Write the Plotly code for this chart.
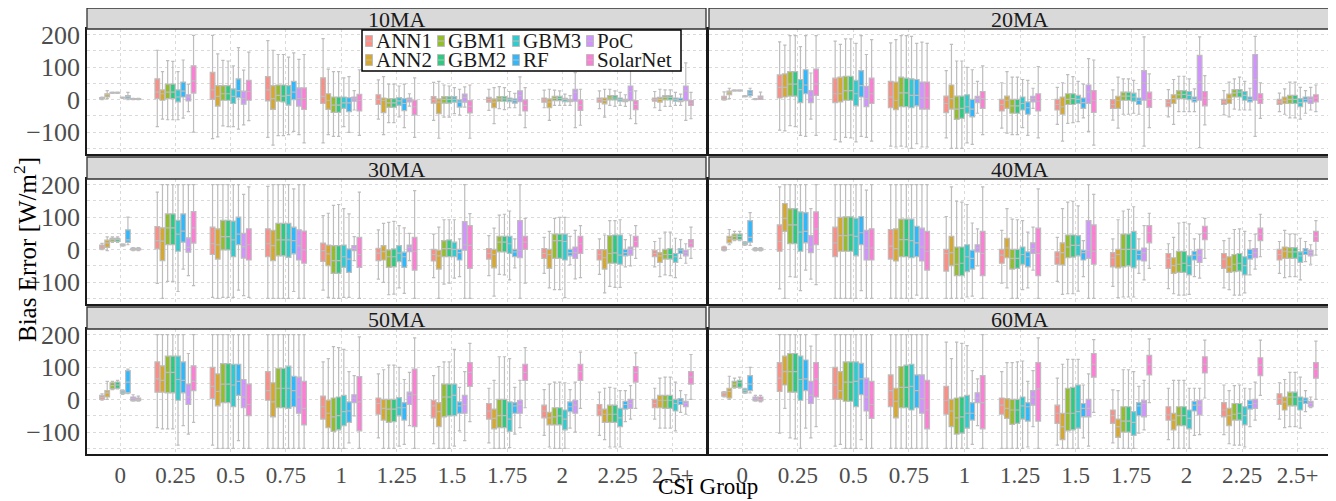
import plotly.graph_objects as go

CATS = ["0", "0.25", "0.5", "0.75", "1", "1.25", "1.5", "1.75", "2", "2.25", "2.5+"]
MODELS = ["ANN1", "ANN2", "GBM1", "GBM2", "GBM3", "RF", "PoC", "SolarNet"]
COLORS = ["#F8766D", "#CD9600", "#7CAE00", "#00BE67", "#00BFC4", "#00A9FF", "#C77CFF", "#FF61CC"]
PANELS = ["10MA", "20MA", "30MA", "40MA", "50MA", "60MA"]

# per CSI group: 8 models, each (lower whisker, q1, median, q3, upper whisker)
MA10 = [
    [(0,2,4,6,8),(3,8,15,18,28),(19,20,21,22,23),(19,20,21,22,23),(4,5,6,7,8),(0,4,9,12,22),(0,1,2,3,4),(0,1,2,3,4)],
    [(-83,3,23,64,152),(-60,-2,18,30,86),(-62,3,23,48,120),(-62,3,23,48,118),(-62,-7,8,30,86),(-57,8,26,54,122),(-37,-4,8,15,48),(-100,20,58,104,198)],
    [(-120,1,30,84,198),(-115,-20,10,43,141),(-81,-2,18,43,121),(-83,-2,18,43,119),(-83,-12,10,33,104),(-91,6,28,64,160),(-78,-14,3,26,91),(-65,-2,25,59,146)],
    [(-116,-4,30,71,182),(-140,-30,3,43,152),(-111,-5,13,45,139),(-111,-7,11,45,139),(-108,-17,13,43,131),(-98,0,23,56,144),(-108,-20,3,36,124),(-133,-30,3,36,139)],
    [(-133,-12,10,67,188),(-108,-30,-2,18,94),(-113,-39,-17,8,86),(-113,-39,-17,8,86),(-83,-27,-10,8,67),(-101,-37,-10,6,71),(-32,-5,2,8,28),(-110,-35,-2,16,92)],
    [(-60,-15,1,15,61),(-108,-40,-2,5,71),(-71,-24,-10,3,48),(-71,-24,-10,3,48),(-53,-18,-4,6,42),(-86,-34,-12,3,48),(-20,-7,0,5,18),(-116,-47,-22,-2,67)],
    [(-64,-11,0,9,53),(-119,-43,-8,2,56),(-54,-11,1,9,45),(-54,-11,1,9,42),(-43,-8,1,9,37),(-48,-23,-8,-1,32),(-23,-8,7,17,39),(-119,-41,-21,-3,45)],
    [(-33,-8,0,7,32),(-74,-25,-8,2,37),(-28,-5,2,9,40),(-31,-5,2,9,37),(-25,-6,0,5,25),(-25,-11,-3,2,19),(-48,-6,12,27,70),(-86,-35,-18,-1,37)],
    [(-25,-8,-1,5,29),(-64,-25,-8,2,32),(-18,-3,4,10,29),(-18,-3,4,10,27),(-18,-6,0,4,17),(-18,-6,-3,1,12),(-86,-5,22,32,83),(-79,-33,-18,-1,32)],
    [(-28,-8,0,5,27),(-54,-13,-3,5,32),(-18,-1,5,12,32),(-21,-1,5,12,27),(-18,-5,0,5,22),(-21,-6,-3,1,15),(-59,-3,25,42,103),(-74,-31,-15,-3,27)],
    [(-25,-5,0,5,25),(-33,-8,1,7,32),(-21,-1,7,12,30),(-21,-1,7,12,30),(-18,-5,0,5,22),(-18,-6,-3,4,17),(-64,-3,27,42,113),(-59,-18,-11,-3,22)],
]
MA20 = [
    [(-2,0,5,10,24),(3,15,21,26,35),(26,27,28,29,30),(26,27,28,29,30),(8,9,10,11,12),(8,13,20,28,35),(0,1,1,2,3),(1,1,6,11,23)],
    [(-94,5,38,76,178),(-96,8,38,79,168),(-80,11,48,86,197),(-83,11,48,86,197),(-110,-9,31,62,163),(-113,18,45,92,197),(-60,-9,8,28,82),(-110,13,48,94,197)],
    [(-123,-9,18,66,180),(-130,-7,18,69,170),(-116,-2,28,72,187),(-118,-2,28,72,187),(-130,-19,18,59,173),(-113,8,43,89,197),(-116,-22,3,41,139),(-128,-12,18,66,185)],
    [(-143,-25,8,56,175),(-146,-31,-2,54,185),(-143,-22,21,69,197),(-146,-22,21,66,197),(-150,-25,13,64,195),(-136,-19,13,62,173),(-146,-29,5,54,177),(-146,-29,5,54,173)],
    [(-118,-40,-12,11,89),(-150,-29,3,45,170),(-150,-61,-29,11,119),(-150,-58,-27,11,119),(-133,-42,-22,15,99),(-138,-53,-29,1,92),(-42,-9,3,10,56),(-108,-27,3,25,104)],
    [(-88,-35,-15,1,52),(-103,-27,-2,11,86),(-108,-42,-19,1,69),(-108,-42,-19,1,69),(-86,-32,-12,8,62),(-110,-45,-25,-7,59),(-27,-7,3,10,35),(-118,-35,-5,18,102)],
    [(-76,-32,-15,1,38),(-128,-45,-22,8,52),(-73,-15,1,18,77),(-71,-15,3,18,71),(-68,-12,1,13,56),(-56,-27,-9,5,48),(-98,-12,23,45,126),(-140,-39,-2,28,122)],
    [(-63,-27,-15,0,30),(-88,-27,-2,10,69),(-45,-2,11,23,64),(-45,-2,11,23,64),(-42,-5,8,20,59),(-45,-15,-2,5,31),(-143,-2,52,89,193),(-86,-24,1,23,79)],
    [(-53,-22,-9,0,31),(-76,-12,3,15,62),(-37,3,15,28,72),(-37,3,16,28,72),(-37,0,13,25,64),(-37,-7,1,8,33),(-148,-2,54,136,193),(-78,-19,5,25,74)],
    [(-47,-15,-7,1,28),(-53,-12,3,17,54),(-29,8,21,31,64),(-32,8,23,31,69),(-32,-2,13,25,56),(-32,-7,1,8,35),(-113,-2,62,139,195),(-58,-12,3,18,52)],
    [(-37,-15,-7,1,20),(-45,-12,-2,8,33),(-56,-12,1,13,54),(-56,-12,1,13,54),(-60,-22,-9,3,38),(-42,-7,1,8,28),(-32,-12,0,8,38),(-37,-7,5,15,45)],
]
MA30 = [
    [(0,2,8,14,19),(-3,7,21,29,39),(22,25,31,35,39),(22,25,31,35,39),(11,12,15,17,18),(15,22,30,61,100),(-3,-1,1,4,6),(-3,-1,1,4,6)],
    [(-104,2,28,71,177),(-150,-34,26,67,200),(-98,15,67,110,200),(-98,15,67,110,200),(-129,-5,48,90,200),(-60,23,57,110,200),(-80,-8,7,36,200),(-111,20,67,117,200)],
    [(-147,-15,18,69,200),(-150,-29,15,64,200),(-147,-1,40,90,200),(-147,-1,40,90,200),(-147,-22,30,88,200),(-125,15,48,100,200),(-142,-26,9,50,170),(-147,-32,15,64,193)],
    [(-150,-22,18,64,195),(-150,-34,12,59,200),(-150,-19,30,81,200),(-150,-19,30,81,200),(-150,-24,30,81,200),(-129,-13,28,69,187),(-150,-32,12,61,200),(-150,-42,-1,57,200)],
    [(-125,-36,-3,20,105),(-147,-49,-13,14,112),(-150,-73,-34,12,136),(-150,-73,-34,12,139),(-147,-55,-22,14,126),(-147,-70,-29,2,110),(-34,-3,4,12,40),(-150,-55,-15,38,177)],
    [(-91,-34,-11,4,61),(-101,-32,-6,12,81),(-139,-55,-22,-1,84),(-137,-53,-22,2,87),(-118,-37,-11,12,74),(-135,-55,-22,-8,67),(-34,-6,7,14,50),(-150,-63,-5,38,182)],
    [(-86,-35,-15,1,48),(-150,-60,-19,-2,69),(-106,-22,3,28,92),(-103,-22,3,30,92),(-88,-22,1,23,92),(-83,-32,-9,1,33),(-150,-2,15,86,200),(-150,-58,13,74,111)],
    [(-80,-29,-12,3,43),(-143,-56,-15,1,66),(-76,-7,23,41,106),(-78,-7,23,41,109),(-93,-12,18,41,119),(-56,-22,-7,1,33),(-150,-25,-2,89,200),(-103,1,23,41,96)],
    [(-73,-27,-12,3,38),(-118,-58,-15,1,56),(-123,-27,28,48,96),(-123,-27,28,48,99),(-148,-32,25,48,99),(-47,-19,-9,1,41),(-90,-27,-9,8,59),(-86,-12,18,41,74)],
    [(-76,-32,-15,0,33),(-133,-60,-25,0,45),(-113,-42,-12,43,89),(-116,-42,-10,45,89),(-116,-45,-17,45,92),(-53,-19,-9,1,31),(-50,-17,1,8,45),(-27,8,25,41,74)],
    [(-53,-22,-12,-2,25),(-83,-39,-19,-9,35),(-78,-29,-15,1,54),(-80,-29,-15,3,54),(-86,-39,-22,-12,35),(-27,-12,-2,3,31),(-42,-19,-9,-2,18),(-27,8,20,31,69)],
]
MA40 = [
    [(-4,-2,3,8,10),(15,21,33,41,62),(28,31,41,48,56),(28,31,41,48,56),(13,15,18,23,25),(13,23,38,89,114),(-4,-2,1,4,6),(-4,-2,1,4,6)],
    [(-121,-5,25,76,193),(-150,56,96,142,200),(-83,18,76,126,200),(-85,18,76,126,200),(-126,-5,54,116,200),(-63,21,56,114,200),(-91,-9,8,43,126),(-108,15,64,116,200)],
    [(-150,-22,21,69,200),(-150,-5,43,99,200),(-150,-5,43,101,200),(-150,-5,45,101,200),(-150,-19,41,96,200),(-126,15,52,102,200),(-150,-32,5,59,183),(-150,-32,5,64,200)],
    [(-150,-29,11,62,200),(-150,-35,3,64,200),(-150,-22,31,94,200),(-150,-22,31,94,200),(-150,-25,28,94,200),(-140,-22,21,72,200),(-150,-35,8,66,200),(-150,-63,-5,56,200)],
    [(-150,-66,-12,1,102),(-150,-49,-9,41,193),(-150,-80,-45,8,149),(-150,-80,-42,8,146),(-146,-68,-22,15,139),(-143,-60,-27,-2,82),(-50,-7,5,15,64),(-150,-80,-12,56,193)],
    [(-103,-42,-17,1,59),(-118,-25,5,35,126),(-150,-60,-27,1,94),(-150,-58,-27,1,92),(-123,-45,-15,8,89),(-118,-53,-22,-7,54),(-63,-12,3,21,69),(-150,-80,-12,66,187)],
    [(-98,-45,-22,-7,38),(-138,-47,-9,21,126),(-136,-25,8,45,146),(-136,-23,13,45,149),(-128,-19,13,43,135),(-83,-32,-9,-2,28),(-150,-27,-2,89,200),(-150,-45,-5,76,170)],
    [(-113,-53,-25,-9,33),(-148,-56,-15,1,92),(-146,-53,1,48,119),(-146,-50,1,48,124),(-146,-56,1,56,132),(-73,-32,-15,-2,33),(-93,-35,-9,5,74),(-58,21,52,74,112)],
    [(-120,-58,-27,-12,18),(-136,-73,-49,-25,38),(-140,-70,-45,-5,82),(-140,-70,-42,-5,84),(-138,-78,-49,-19,79),(-83,-32,-17,-5,33),(-88,-39,-17,1,48),(-27,31,52,72,96)],
    [(-118,-58,-29,-12,28),(-123,-70,-53,-22,35),(-140,-68,-45,-15,62),(-140,-66,-42,-12,64),(-133,-78,-49,-22,56),(-78,-29,-15,1,28),(-60,-25,-9,3,48),(-22,28,48,66,109)],
    [(-73,-32,-15,1,25),(-86,-27,-5,8,59),(-83,-27,-7,6,48),(-83,-27,-7,6,48),(-93,-39,-19,-7,35),(-37,-15,-5,3,25),(-45,-19,-9,-2,15),(-17,25,41,56,89)],
]
MA50 = [
    [(-2,1,7,13,18),(1,8,21,28,56),(31,33,43,52,56),(33,35,45,54,59),(16,18,23,28,30),(18,21,54,89,94),(-5,-3,3,8,15),(-5,-3,1,5,11)],
    [(-86,23,64,116,200),(-90,23,59,104,200),(-90,21,84,134,200),(-90,21,84,134,200),(-140,-2,62,134,200),(-80,21,59,116,200),(-106,-15,8,48,142),(-70,28,56,104,200)],
    [(-140,3,41,99,200),(-150,-19,25,79,200),(-150,-9,48,111,200),(-150,-9,48,111,200),(-150,-22,45,109,200),(-126,13,56,109,200),(-150,-25,8,62,200),(-150,-49,-15,48,200)],
    [(-150,-2,28,86,200),(-150,-53,-7,52,200),(-150,-25,35,96,200),(-150,-25,35,96,200),(-150,-27,35,103,200),(-150,-22,28,72,200),(-150,-42,8,69,200),(-150,-78,-27,56,200)],
    [(-150,-60,-22,11,116),(-150,-86,-42,-2,126),(-150,-98,-53,5,163),(-150,-93,-49,8,160),(-150,-80,-37,13,155),(-133,-70,-35,-7,86),(-50,-9,5,15,74),(-150,-96,-7,71,193)],
    [(-118,-45,-12,5,79),(-150,-63,-27,1,92),(-150,-70,-29,1,106),(-150,-68,-29,1,106),(-143,-50,-25,6,99),(-138,-63,-25,-9,62),(-80,-15,13,23,84),(-150,-83,15,94,190)],
    [(-136,-56,-19,-2,74),(-150,-83,-37,-9,102),(-150,-53,8,48,116),(-150,-50,8,48,116),(-143,-49,13,48,155),(-96,-42,-19,-7,38),(-126,-42,-15,13,86),(-68,41,84,114,173)],
    [(-133,-60,-35,-12,35),(-150,-90,-58,-29,59),(-150,-86,-49,1,132),(-150,-86,-49,1,132),(-148,-98,-60,-7,126),(-106,-42,-19,-9,38),(-86,-42,-15,-2,59),(-25,59,84,109,160)],
    [(-110,-56,-35,-17,31),(-146,-78,-56,-39,48),(-150,-78,-53,-25,54),(-150,-78,-50,-25,54),(-150,-93,-60,-32,52),(-88,-37,-22,-7,31),(-100,-42,-17,-2,54),(-27,59,86,109,146)],
    [(-110,-49,-32,-15,23),(-123,-70,-45,-29,35),(-146,-70,-45,-17,38),(-146,-70,-45,-17,35),(-146,-83,-56,-27,28),(-68,-29,-15,-5,28),(-60,-27,-12,1,43),(-27,54,84,102,144)],
    [(-60,-25,-12,1,35),(-88,-25,-2,13,66),(-88,-27,-2,13,69),(-88,-27,-2,13,69),(-96,-35,-12,1,54),(-39,-15,-5,3,28),(-45,-22,-12,-5,15),(1,48,69,86,139)],
]
MA60 = [
    [(8,11,18,23,25),(1,5,25,35,72),(35,38,48,56,66),(35,38,52,59,69),(19,21,28,33,35),(21,28,48,74,99),(-5,-3,3,8,13),(-7,-4,1,8,13)],
    [(-103,25,66,114,200),(-27,45,86,134,200),(-118,23,86,142,200),(-121,23,86,142,200),(-150,-2,62,134,200),(-88,28,64,122,200),(-118,-12,13,56,165),(-83,8,64,114,200)],
    [(-143,1,45,99,200),(-138,1,28,86,200),(-150,-5,54,116,200),(-150,-5,54,116,200),(-150,-22,56,116,200),(-123,15,64,112,200),(-150,-35,8,66,200),(-150,-58,-15,56,200)],
    [(-150,-22,28,76,200),(-150,-56,-5,35,200),(-150,-25,38,102,200),(-150,-25,38,106,200),(-150,-32,41,109,200),(-150,-25,28,76,200),(-150,-42,3,76,200),(-150,-90,-32,59,200)],
    [(-150,-45,-2,41,177),(-150,-83,-35,1,126),(-150,-106,-56,5,177),(-150,-103,-53,8,173),(-150,-88,-42,13,166),(-138,-63,-42,-9,89),(-80,-9,5,21,64),(-150,-90,-9,74,200)],
    [(-150,-45,-17,5,86),(-150,-58,-27,3,114),(-150,-76,-32,1,114),(-150,-73,-32,1,116),(-150,-60,-19,8,119),(-146,-66,-22,-9,56),(-83,-17,8,28,89),(-150,-66,33,114,190)],
    [(-140,-73,-42,-17,66),(-150,-123,-83,-42,109),(-150,-96,-42,35,124),(-150,-93,-42,38,124),(-150,-88,-37,45,124),(-118,-53,-27,-12,45),(-143,-53,-27,1,79),(-39,69,109,142,185)],
    [(-133,-73,-49,-32,30),(-150,-116,-83,-60,28),(-150,-100,-66,-22,92),(-150,-100,-66,-22,92),(-150,-110,-70,-37,86),(-103,-49,-19,-9,41),(-93,-53,-12,-2,59),(-9,76,109,136,187)],
    [(-123,-63,-47,-22,35),(-150,-93,-63,-42,59),(-150,-80,-49,-22,59),(-150,-80,-49,-22,59),(-150,-90,-58,-32,35),(-110,-35,-17,-5,35),(-108,-47,-17,-2,35),(5,82,109,132,183)],
    [(-108,-53,-32,-9,45),(-136,-80,-49,-27,28),(-140,-63,-45,-12,43),(-140,-63,-42,-12,45),(-146,-78,-49,-22,35),(-83,-29,-15,-2,33),(-63,-27,-12,1,54),(13,74,106,129,183)],
    [(-60,-15,3,18,52),(-86,-32,-7,8,62),(-83,-19,8,23,84),(-83,-19,8,23,84),(-88,-32,-5,8,69),(-37,-12,-2,5,28),(-25,-22,-12,-5,8),(1,66,94,114,180)],
]
PANEL_DATA = [MA10, MA20, MA30, MA40, MA50, MA60]

Y_TICKS = [-100, 0, 100, 200]
Y_TICKTEXT = ["\u2212100", "0", "100", "200"]
Y_MINOR = [-150, -50, 50, 150]

# ---- layout geometry ----
# The page body keeps its default 8px margin, so every position below is
# given in window pixels and shifted by OFF into figure pixels.
OFF = 8
W, H = 1336 - OFF, 501 - OFF
ML, MR, MT, MB = 87 - OFF, W - (1331 - OFF), 0, H - (454 - OFF)
PW = W - ML - MR
PH = H - MT - MB
FONT = "Liberation Serif"
GRID = "#DADADA"


def px_x(px):
    return (px - OFF - ML) / PW


def px_y(py):
    return (H - MB - (py - OFF)) / PH


def rgba(hex_color, a):
    h = hex_color.lstrip("#")
    return "rgba(%d,%d,%d,%.2f)" % (int(h[0:2], 16), int(h[2:4], 16), int(h[4:6], 16), a)


COL_X = [(87, 706), (709, 1331)]
ROW_Y = [(29, 154), (179, 304), (329, 454)]
STRIP_Y = [(8, 29), (157, 179), (307, 329)]

fig = go.Figure()
layout = {}
shapes = []
annotations = []

for p, pname in enumerate(PANELS):
    row, col = p // 2, p % 2
    ax = "" if p == 0 else str(p + 1)
    data = PANEL_DATA[p]
    for m, model in enumerate(MODELS):
        fig.add_trace(go.Box(
            x=CATS,
            lowerfence=[data[g][m][0] for g in range(len(CATS))],
            q1=[data[g][m][1] for g in range(len(CATS))],
            median=[data[g][m][2] for g in range(len(CATS))],
            q3=[data[g][m][3] for g in range(len(CATS))],
            upperfence=[data[g][m][4] for g in range(len(CATS))],
            name=model,
            offsetgroup=model,
            alignmentgroup=pname,
            fillcolor=rgba(COLORS[m], 0.82),
            line=dict(color="#BDBDBD", width=1.2),
            whiskerwidth=0.7,
            boxpoints=False,
            showlegend=False,
            hoverinfo="skip",
            xaxis="x" + ax, yaxis="y" + ax,
        ))
    x0, x1 = COL_X[col]
    y0, y1 = ROW_Y[row]
    layout["xaxis" + ax] = dict(
        domain=[px_x(x0), px_x(x1)], anchor="y" + ax, automargin=False,
        type="category", categoryorder="array", categoryarray=CATS,
        range=[-0.6, len(CATS) - 0.4],
        showgrid=True, gridcolor=GRID, griddash="dot", gridwidth=1,
        showline=True, mirror=True, linecolor="#1A1A1A", linewidth=1.6,
        ticks="", ticklen=0, showticklabels=(row == 2), zeroline=False,
        tickfont=dict(family=FONT, size=23, color="#4D4D4D"),
    )
    layout["yaxis" + ax] = dict(
        domain=[px_y(y1), px_y(y0)], anchor="x" + ax, automargin=False,
        range=[-167.5, 217.5],
        tickvals=Y_TICKS, ticktext=Y_TICKTEXT,
        showgrid=True, gridcolor=GRID, griddash="dot", gridwidth=1,
        minor=dict(tickvals=Y_MINOR, showgrid=True, gridcolor=GRID, griddash="dot", gridwidth=1, ticks=""),
        showline=True, mirror=True, linecolor="#1A1A1A", linewidth=1.6,
        ticks="", ticklen=0, showticklabels=(col == 0), zeroline=False,
        tickfont=dict(family=FONT, size=26, color="#4D4D4D"),
    )
    # facet strip
    s0, s1 = STRIP_Y[row]
    shapes.append(dict(type="rect", xref="paper", yref="paper",
                       x0=px_x(x0), x1=px_x(x1), y0=px_y(s1), y1=px_y(s0),
                       fillcolor="#D9D9D9", line=dict(color="#333333", width=1.3), layer="above"))
    annotations.append(dict(text=pname, xref="paper", yref="paper",
                            x=px_x((x0 + x1) / 2), y=px_y(s1 - 9.5),
                            xanchor="center", yanchor="middle", showarrow=False,
                            font=dict(family=FONT, size=22, color="#1A1A1A")))

# ---- legend drawn inside the 10MA panel ----
LEG_ROWS = [["ANN1", "GBM1", "GBM3", "PoC"], ["ANN2", "GBM2", "RF", "SolarNet"]]
LEG_KEY_X = [369, 441, 516, 590]
LEG_ROW_Y = [41, 60]
shapes.append(dict(type="rect", xref="paper", yref="paper",
                   x0=px_x(362), x1=px_x(681), y0=px_y(71), y1=px_y(30),
                   fillcolor="white", line=dict(color="black", width=1.5), layer="above"))
for r, names in enumerate(LEG_ROWS):
    cy = LEG_ROW_Y[r]
    for c, nm in enumerate(names):
        kx = LEG_KEY_X[c]
        color = COLORS[MODELS.index(nm)]
        shapes.append(dict(type="rect", xref="paper", yref="paper",
                           x0=px_x(kx - 3.5), x1=px_x(kx + 3.5), y0=px_y(cy + 5.5), y1=px_y(cy - 5.5),
                           fillcolor=rgba(color, 0.82), line=dict(color="#BDBDBD", width=1), layer="above"))
        shapes.append(dict(type="line", xref="paper", yref="paper",
                           x0=px_x(kx - 3.5), x1=px_x(kx + 3.5), y0=px_y(cy), y1=px_y(cy),
                           line=dict(color="#BDBDBD", width=1), layer="above"))
        annotations.append(dict(text=nm, xref="paper", yref="paper",
                                x=px_x(kx + 4.5), y=px_y(cy), xanchor="left", yanchor="middle",
                                showarrow=False, font=dict(family=FONT, size=21, color="#1A1A1A")))

# axis titles
annotations.append(dict(text="Bias Error [W/m<sup>2</sup>]", xref="paper", yref="paper",
                        x=px_x(25), y=px_y(250), xanchor="center", yanchor="middle",
                        textangle=-90, showarrow=False, font=dict(family=FONT, size=25, color="black")))
annotations.append(dict(text="CSI Group", xref="paper", yref="paper",
                        x=px_x(708), y=px_y(501), xanchor="center", yanchor="bottom",
                        showarrow=False, font=dict(family=FONT, size=23, color="black")))

fig.update_layout(
    width=W, height=H,
    margin=dict(l=ML, r=MR, t=MT, b=MB, pad=0, autoexpand=False),
    paper_bgcolor="white", plot_bgcolor="white",
    boxmode="group", boxgap=0.25, boxgroupgap=0.1,
    showlegend=False,
    font=dict(family=FONT),
    shapes=shapes, annotations=annotations,
    **layout,
)

fig.write_html("out.html")
